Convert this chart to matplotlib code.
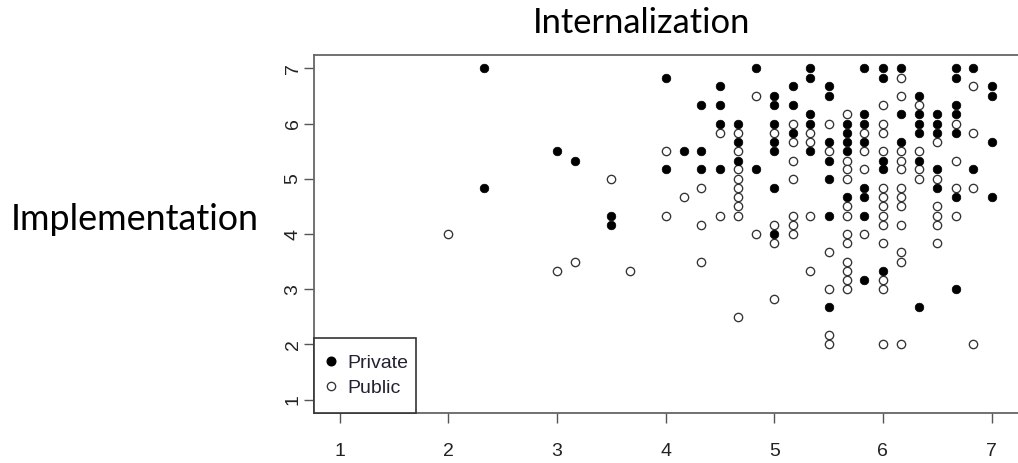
import matplotlib
matplotlib.use("Agg")
import matplotlib.pyplot as plt
from matplotlib import font_manager
from matplotlib.lines import Line2D
from matplotlib.patches import Rectangle

# ---------------- data ----------------
title = "Internalization"
ylabel = "Implementation"
legend_labels = ["Private", "Public"]
ticks = [1, 2, 3, 4, 5, 6, 7]
tick_labels = ["1", "2", "3", "4", "5", "6", "7"]

private_x = ([2.33, 2.33, 3.0, 3.17, 3.5, 3.5]
             + [4.0] * 2 + [4.17] + [4.33] * 3 + [4.5] * 4 + [4.67] * 3
             + [4.83] * 2 + [5.0] * 7 + [5.17] * 3 + [5.33] * 5 + [5.5] * 7
             + [5.67] * 5 + [5.83] * 8 + [6.0] * 5 + [6.17] * 3 + [6.33] * 6
             + [6.5] * 5 + [6.67] * 7 + [6.83] * 2 + [7.0] * 4)
private_y = ([7.0, 4.83, 5.5, 5.33, 4.33, 4.17]
             + [6.83, 5.17]
             + [5.5]
             + [6.33, 5.5, 5.17]
             + [6.67, 6.33, 6.0, 5.17]
             + [6.0, 5.67, 5.33]
             + [7.0, 5.17]
             + [6.5, 6.33, 6.0, 5.67, 5.5, 4.83, 4.0]
             + [6.67, 6.33, 5.83]
             + [7.0, 6.83, 6.17, 6.0, 5.5]
             + [6.67, 6.5, 5.67, 5.33, 5.0, 4.33, 2.67]
             + [6.0, 5.83, 5.67, 5.5, 4.67]
             + [7.0, 6.17, 6.0, 5.67, 4.83, 4.67, 4.33, 3.17]
             + [7.0, 6.83, 5.33, 5.17, 3.33]
             + [7.0, 6.17, 5.67]
             + [6.5, 6.17, 6.0, 5.83, 5.33, 2.67]
             + [6.17, 6.0, 5.83, 5.17, 4.83]
             + [7.0, 6.83, 6.33, 6.17, 5.83, 4.67, 3.0]
             + [7.0, 5.17]
             + [6.67, 6.5, 5.67, 4.67])

public_x = ([2.0, 3.0, 3.17, 3.5, 3.67]
            + [4.0] * 2 + [4.17] + [4.33] * 3 + [4.5] * 2 + [4.67] * 9
            + [4.83] * 2 + [5.0] * 4 + [5.17] * 7 + [5.33] * 4 + [5.5] * 6
            + [5.67] * 12 + [5.83] * 4 + [6.0] * 13 + [6.17] * 12 + [6.33] * 4
            + [6.5] * 6 + [6.67] * 4 + [6.83] * 4)
public_y = ([4.0, 3.33, 3.5, 5.0, 3.33]
            + [5.5, 4.33]
            + [4.67]
            + [4.83, 4.17, 3.5]
            + [5.83, 4.33]
            + [5.83, 5.5, 5.17, 5.0, 4.83, 4.67, 4.5, 4.33, 2.5]
            + [6.5, 4.0]
            + [5.83, 4.17, 3.83, 2.83]
            + [6.0, 5.67, 5.33, 5.0, 4.33, 4.17, 4.0]
            + [5.83, 5.67, 4.33, 3.33]
            + [6.0, 5.5, 3.67, 3.0, 2.17, 2.0]
            + [6.17, 5.33, 5.17, 5.0, 4.5, 4.33, 4.0, 3.83, 3.5, 3.33, 3.17, 3.0]
            + [5.83, 5.5, 5.17, 4.0]
            + [6.33, 6.0, 5.83, 5.5, 4.83, 4.67, 4.5, 4.33, 4.17, 3.83, 3.17, 3.0, 2.0]
            + [6.83, 6.5, 5.5, 5.33, 5.17, 4.83, 4.67, 4.5, 4.17, 3.67, 3.5, 2.0]
            + [6.33, 5.5, 5.17, 5.0]
            + [5.67, 5.0, 4.5, 4.33, 4.17, 3.83]
            + [6.0, 5.33, 4.83, 4.33]
            + [6.67, 5.83, 4.83, 2.0])

# ---------------- fonts ----------------
names = {f.name for f in font_manager.fontManager.ttflist}
rfont = "Liberation Sans" if "Liberation Sans" in names else "DejaVu Sans"
rsize = 14
tfont = "Lato" if "Lato" in names else "DejaVu Sans"

# ---------------- figure ----------------
W, H = 1018, 463
ax_l, ax_r, ax_t, ax_b = 313.5, 1017.6, 55, 413
axw, axh = ax_r - ax_l, ax_b - ax_t
fig = plt.figure(figsize=(W / 100, H / 100), dpi=100)
ax = fig.add_axes([ax_l / W, (H - ax_b) / H, axw / W, axh / H])

ax.plot(public_x, public_y, linestyle="none", marker="o", markersize=6,
        markerfacecolor="white", markeredgecolor="#333333", markeredgewidth=0.95)
ax.plot(private_x, private_y, linestyle="none", marker="o", markersize=6.2,
        markerfacecolor="black", markeredgecolor="black", markeredgewidth=0.5)

ax.set_xlim(0.76, 7.24)
ax.set_ylim(0.76, 7.24)
ax.set_xticks(ticks)
ax.set_yticks(ticks)
ax.set_xticklabels(tick_labels, fontfamily=rfont, fontsize=rsize, color="#222222")
ax.set_yticklabels(tick_labels, fontfamily=rfont, fontsize=rsize, color="#222222",
                   rotation=90, va="center")
ax.tick_params(axis="both", length=7.5, width=1.0, color="#555555")
ax.tick_params(axis="x", pad=14)
ax.tick_params(axis="y", pad=1)

for s in ["left", "top", "bottom"]:
    ax.spines[s].set_color("#666666")
    ax.spines[s].set_linewidth(1.3)
ax.spines["right"].set_visible(False)

# legend box (R style, bottom-left)
box_r, box_t = 416, 338
ax.add_patch(Rectangle((0, 0), (box_r - ax_l) / axw, (ax_b - box_t) / axh,
                       transform=ax.transAxes, facecolor="white",
                       edgecolor="#333333", linewidth=1.2, zorder=5,
                       clip_on=False))
handles = [
    Line2D([], [], linestyle="none", marker="o", markersize=6.2,
           markerfacecolor="black", markeredgecolor="black"),
    Line2D([], [], linestyle="none", marker="o", markersize=6,
           markerfacecolor="white", markeredgecolor="#333333", markeredgewidth=0.95),
]
leg = ax.legend(handles, legend_labels, loc="center left",
                bbox_to_anchor=((327 - ax_l) / axw, (ax_b - 375.5) / axh),
                borderaxespad=0, borderpad=0, frameon=False,
                prop={"family": rfont, "size": rsize},
                handlelength=0.42, handletextpad=0.63, labelspacing=0.4)
leg.set_zorder(6)
for t in leg.get_texts():
    t.set_color("#222233")

fig.text(642 / W, 1 - 23 / H, title, fontfamily=tfont, fontsize=24.8,
         ha="center", va="center", color="black")
fig.text(135 / W, 1 - 220 / H, ylabel, fontfamily=tfont, fontsize=25.8,
         ha="center", va="center", color="black")

fig.savefig("out.png", dpi=100)
